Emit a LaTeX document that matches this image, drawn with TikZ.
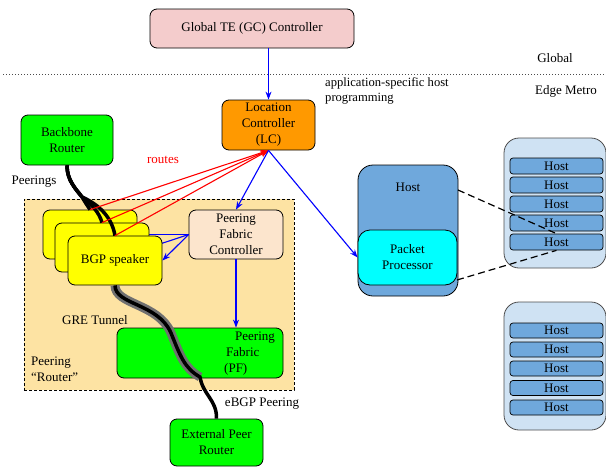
\documentclass[tikz,border=0pt]{standalone}
\usepackage{fontspec}
\setmainfont{Liberation Serif}
\usetikzlibrary{arrows.meta,calc}
\pgfdeclarelayer{back}
\pgfdeclarelayer{mid}
\pgfsetlayers{back,mid,main}
\definecolor{gcpink}{HTML}{F4CCCC}
\definecolor{lcorange}{HTML}{FF9900}
\definecolor{brgreen}{HTML}{00FF00}
\definecolor{regionfill}{HTML}{FDE3A3}
\definecolor{bgpyellow}{HTML}{FFFF00}
\definecolor{pfcpeach}{HTML}{FCE5CD}
\definecolor{hostblue}{HTML}{6FA8DC}
\definecolor{ppcyan}{HTML}{00FFFF}
\definecolor{rackblue}{HTML}{CFE2F3}
\definecolor{tunnelgray}{HTML}{707070}
\tikzset{
  boxnode/.style={draw=black, line width=0.8pt, rounded corners=7pt, align=center, inner sep=1pt},
  hostrow/.style={draw=black, line width=0.7pt, rounded corners=3pt, fill=hostblue, minimum width=93pt, minimum height=16pt, inner sep=0pt},
  rackbox/.style={draw=black!70, line width=0.8pt, rounded corners=15pt, fill=rackblue, minimum width=102pt},
  plain/.style={align=left, inner sep=0pt},
  bluearrow/.style={draw=blue, line width=1.1pt, -{Stealth[length=8pt,width=6pt]}},
  redarrow/.style={draw=red, line width=1.1pt, -{Stealth[length=8pt,width=6pt]}},
  peerline/.style={draw=black, line width=3.5pt},
  tunnelouter/.style={draw=tunnelgray, line width=9pt},
  dashlink/.style={draw=black, line width=1.2pt, dash pattern=on 7pt off 4pt}
}
\begin{document}
\begin{tikzpicture}[x=1pt, y=-1pt, font=\fontsize{13}{16}\selectfont]
\useasboundingbox (0,0) rectangle (606,469);

% separator
\draw[black!70, line width=0.9pt, dash pattern=on 1pt off 2pt] (3,74) -- (606,74);
\node[plain, anchor=center] (globallbl) at (555,58) {Global};
\node[plain, anchor=center] (edgelbl) at (566,91) {Edge Metro};
\node[plain, anchor=north west, font=\fontsize{12.6}{15}\selectfont] (applbl) at (325,77) {application-specific host\\programming};

% global controller
\node[boxnode, fill=gcpink, minimum width=204pt, minimum height=39pt] (gc) at (252,28.5) {Global TE (GC) Controller};

% location controller
\node[boxnode, fill=lcorange, minimum width=93pt, minimum height=50pt] (lc) at (268.5,125) {Location\\Controller\\(LC)};

% backbone router
\node[boxnode, fill=brgreen, minimum width=92pt, minimum height=50pt] (br) at (67,140) {Backbone\\Router};
\node[plain] (peeringslbl) at (34,182) {Peerings};
\node[plain, text=red] (routeslbl) at (163,160) {routes};

% peering router region
\begin{pgfonlayer}{back}
\node[draw=black, line width=0.8pt, dash pattern=on 3pt off 2pt, fill=regionfill, minimum width=270pt, minimum height=191pt, inner sep=0pt] (region) at (159,294.5) {};
\end{pgfonlayer}

% BGP speakers
\node[boxnode, fill=bgpyellow, minimum width=94pt, minimum height=49pt] (bgp1) at (90,234.5) {};
\node[boxnode, fill=bgpyellow, minimum width=94pt, minimum height=49pt] (bgp2) at (102,247.5) {};
\node[boxnode, fill=bgpyellow, minimum width=94pt, minimum height=49pt] (bgp3) at (115,260.5) {BGP speaker};

% peering fabric controller
\node[boxnode, fill=pfcpeach, minimum width=94pt, minimum height=49pt] (pfc) at (236,234.5) {Peering\\Fabric\\Controller};

\begin{pgfonlayer}{mid}
\draw[bluearrow] (pfc.west) -- (bgp1.east);
\draw[bluearrow] (pfc.west) -- (bgp2.east);
\end{pgfonlayer}
\draw[bluearrow] (pfc.west) -- (bgp3.east);

% peering fabric
\node[boxnode, fill=brgreen, minimum width=166pt, minimum height=50pt] (pf) at (200,353) {};
\node[plain, anchor=west] (pflbl) at (224,353.5) {\hspace*{11pt}Peering\\\hspace*{2pt}Fabric\\(PF)};

\node[plain] (grelbl) at (95,320) {GRE Tunnel};
\node[plain, anchor=west] (routerlbl) at (31,369) {Peering\\“Router”};

% external peer router
\node[boxnode, fill=brgreen, minimum width=93pt, minimum height=47pt] (epr) at (216.5,442.5) {External Peer\\Router};
\node[plain] (ebgplbl) at (262,404) {eBGP Peering};

% tunnel
\coordinate (tend) at (200,377);
\draw[tunnelouter] (bgp3.south) .. controls (115,305) and (158,303) .. (171,333) .. controls (180,355) and (184,368) .. (tend);
\draw[peerline] (bgp3.south) .. controls (115,305) and (158,303) .. (171,333) .. controls (180,355) and (184,368) .. (tend) .. controls (203,395) and (217,400) .. (epr.north);

% peerings from backbone router
\draw[peerline] (br.south) .. controls (67,180) and (75,188) .. (82,197) .. controls (85,202) .. (bgp1.north);
\draw[peerline] (br.south) .. controls (67,180) and (75,188) .. (82,197) .. controls (92,205) and (99,212) .. (bgp2.north);
\draw[peerline] (br.south) .. controls (67,180) and (75,188) .. (82,197) .. controls (100,205) and (112,218) .. (bgp3.north);

% routes
\draw[redarrow] (bgp1.north) -- (lc.south);
\draw[redarrow] (bgp2.north) -- (lc.south);
\draw[redarrow] (bgp3.north) -- (lc.south);

% host
\node[draw=black, line width=0.8pt, rounded corners=15pt, fill=hostblue, minimum width=100pt, minimum height=131pt] (hostbig) at (408,230.5) {};
\node[plain] (hostlbl) at (408,187) {Host};
\node[draw=black, line width=0.8pt, rounded corners=12pt, fill=ppcyan, minimum width=99pt, minimum height=55pt, align=center] (pp) at (407.5,257.5) {Packet\\Processor};

% control arrows
\draw[bluearrow] (lc.north |- gc.south) -- (lc.north);
\draw[bluearrow] (lc.south) -- (pfc.north);
\draw[bluearrow] (lc.south) -- (pp.west);
\draw[bluearrow] (pfc.south) -- (pfc.south |- pf.north);

% racks
\node[rackbox, minimum height=130pt] (rack1) at (555,203) {};
\node[hostrow] (r1h1) at (556.5,166) {Host};
\node[hostrow] (r1h2) at (556.5,185) {Host};
\node[hostrow] (r1h3) at (556.5,204) {Host};
\node[hostrow] (r1h4) at (556.5,223) {Host};
\node[hostrow] (r1h5) at (556.5,242) {Host};

\node[rackbox, minimum height=128pt] (rack2) at (555,366) {};
\node[hostrow, minimum height=15pt] (r2h1) at (556.5,330.5) {Host};
\node[hostrow, minimum height=15pt] (r2h2) at (556.5,349.5) {Host};
\node[hostrow, minimum height=15pt] (r2h3) at (556.5,368.5) {Host};
\node[hostrow, minimum height=15pt] (r2h4) at (556.5,388) {Host};
\node[hostrow, minimum height=15pt] (r2h5) at (556.5,407.5) {Host};

% zoom lines
\coordinate (hz1) at (458,190);
\coordinate (hz2) at (457,280);
\draw[dashlink] (hz1) -- (r1h5.north);
\draw[dashlink] (hz2) -- (r1h5.south);

\end{tikzpicture}
\end{document}
